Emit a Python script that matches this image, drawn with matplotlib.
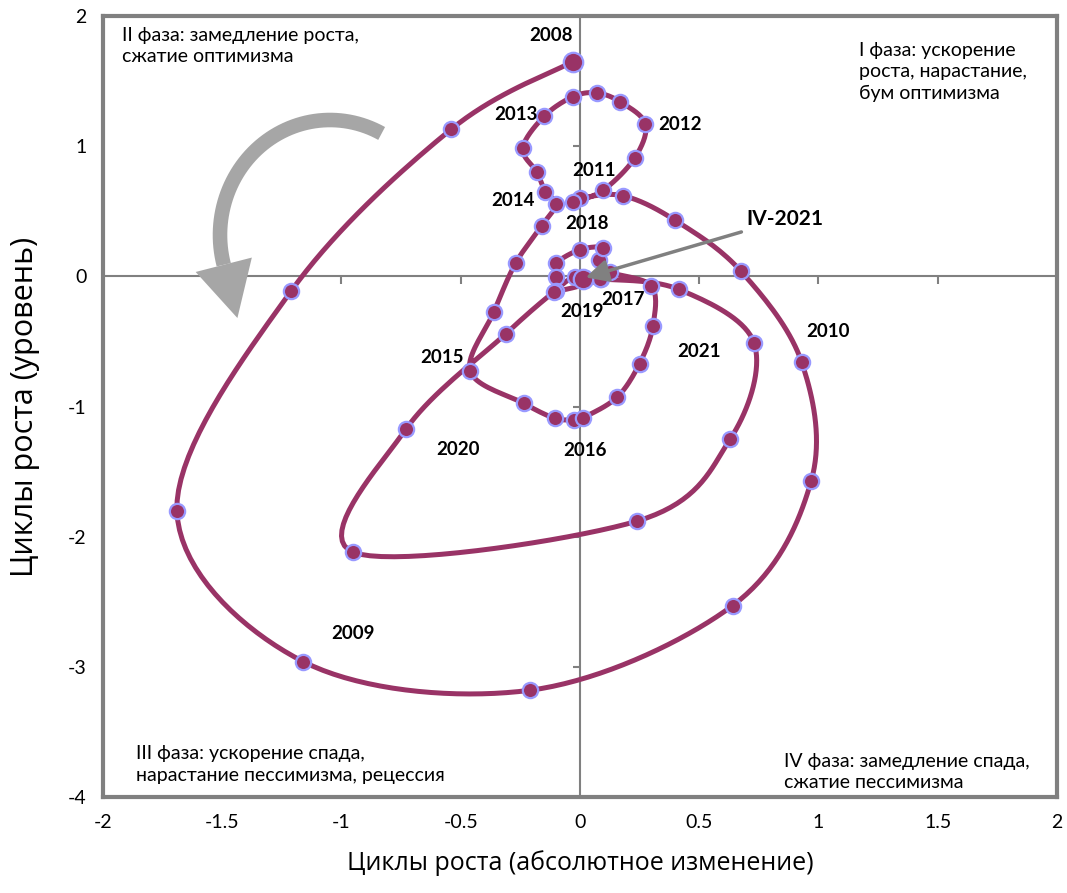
import numpy as np
import matplotlib
matplotlib.use('Agg')
import matplotlib.pyplot as plt
from matplotlib.patches import Polygon

# quarterly points 2008Q1 .. 2021Q4
dx = [-0.03, -0.54, -1.21, -1.69,
      -1.16, -0.21, 0.64, 0.97,
      0.93, 0.675, 0.40, 0.18,
      0.00, -0.03, 0.096, 0.23,
      0.275, 0.17, 0.07, -0.03,
      -0.15, -0.24, -0.18, -0.145,
      -0.10, -0.16, -0.27, -0.36,
      -0.46, -0.236, -0.105, -0.024,
      0.014, 0.155, 0.25, 0.306,
      0.30, 0.126, 0.08, 0.096,
      0.00, -0.10, -0.10, -0.10,
      0.09, -0.02, -0.11, -0.31,
      -0.73, -0.95, 0.24, 0.63,
      0.73, 0.415, 0.084, 0.014]
lvl = [1.65, 1.13, -0.11, -1.80,
       -2.96, -3.18, -2.53, -1.57,
       -0.66, 0.04, 0.43, 0.62,
       0.60, 0.57, 0.66, 0.91,
       1.17, 1.34, 1.41, 1.38,
       1.23, 0.985, 0.80, 0.65,
       0.555, 0.39, 0.10, -0.27,
       -0.73, -0.975, -1.09, -1.10,
       -1.085, -0.93, -0.67, -0.38,
       -0.075, 0.033, 0.125, 0.22,
       0.205, 0.10, -0.005, -0.11,
       -0.02, -0.005, -0.12, -0.44,
       -1.175, -2.12, -1.88, -1.25,
       -0.51, -0.10, -0.02, -0.018]

year_labels = ['2008', '2009', '2010', '2011', '2012', '2013', '2014',
               '2015', '2016', '2017', '2018', '2019', '2020', '2021']
year_pos = [(-0.12, 1.85), (-0.95, -2.74), (1.04, -0.42), (0.06, 0.81),
            (0.42, 1.17), (-0.27, 1.24), (-0.28, 0.58), (-0.58, -0.62),
            (0.02, -1.34), (0.18, -0.18), (0.03, 0.41), (0.01, -0.27),
            (-0.51, -1.33), (0.50, -0.58)]

xticks = [-2, -1.5, -1, -0.5, 0, 0.5, 1, 1.5, 2]
xtick_labels = ['-2', '-1.5', '-1', '-0.5', '0', '0.5', '1', '1.5', '2']
yticks = [-4, -3, -2, -1, 0, 1, 2]
ytick_labels = ['-4', '-3', '-2', '-1', '0', '1', '2']

LINE = '#993366'
EDGE = '#9999FF'
GRAY = '#808080'


def smooth(xs, ys, n=20):
    # excel-like smoothing: bezier with catmull-rom control points
    p = np.column_stack([xs, ys])
    p = np.vstack([p[0], p, p[-1]])
    out = []
    t = np.linspace(0, 1, n)[:, None]
    for i in range(1, len(p) - 2):
        p0, p1, p2, p3 = p[i - 1], p[i], p[i + 1], p[i + 2]
        b1 = p1 + (p2 - p0) / 6
        b2 = p2 - (p3 - p1) / 6
        seg = ((1 - t) ** 3) * p1 + 3 * ((1 - t) ** 2) * t * b1 + 3 * (1 - t) * t ** 2 * b2 + t ** 3 * p2
        out.append(seg)
    s = np.vstack(out)
    return s[:, 0], s[:, 1]


plt.rcParams['font.family'] = ['Lato', 'DejaVu Sans']
plt.rcParams['axes.unicode_minus'] = False

fig = plt.figure(figsize=(10.67, 8.93), dpi=100)
ax = fig.add_axes([0.0965, 0.1075, 0.894, 0.8745])
ax.set_xlim(-2, 2)
ax.set_ylim(-4, 2)

# zero axes with small ticks
ax.axhline(0, color=GRAY, lw=1.5, zorder=1)
ax.axvline(0, color=GRAY, lw=1.5, zorder=1)
ax.vlines(xticks, 0, -0.055, color=GRAY, lw=1.5, zorder=1)
ax.hlines(yticks, 0, -0.03, color=GRAY, lw=1.5, zorder=1)

sx, sy = smooth(dx, lvl)
ax.plot(sx, sy, color=LINE, lw=3.6, zorder=3, solid_capstyle='round')
ax.plot(dx, lvl, 'o', ms=11, mfc=LINE, mec=EDGE, mew=1.6, zorder=4)
ax.plot([dx[0], dx[-1]], [lvl[0], lvl[-1]], 'o', ms=14, mfc=LINE, mec=EDGE,
        mew=1.6, zorder=5)

for lab, (tx, ty) in zip(year_labels, year_pos):
    ax.text(tx, ty, lab, ha='center', va='center', fontsize=13.5,
            fontweight='bold', zorder=6)

# IV-2021 pointer
ax.annotate('IV-2021', xy=(dx[-1] + 0.01, lvl[-1] + 0.01), xytext=(0.70, 0.44),
            ha='left', va='center', fontsize=15, fontweight='bold', zorder=7,
            arrowprops=dict(arrowstyle='-|>,head_length=0.9,head_width=0.45',
                            color=GRAY, lw=2.5, shrinkA=2, shrinkB=0))

# big curved arrow (elliptic arc built in pixel space)
to_data = ax.transData.inverted()
H = 893
cx, cy, rx, ry = 330, 235, 110, 115
th = np.radians(np.linspace(62, 195, 60))
arc_px = np.column_stack([cx + rx * np.cos(th), H - (cy - ry * np.sin(th))])
arc = to_data.transform(arc_px)
ax.plot(arc[:, 0], arc[:, 1], color='#A6A6A6', lw=10.5, solid_capstyle='butt', zorder=2)
te = th[-1]
base = arc_px[-1]
tang = np.array([-rx * np.sin(te), ry * np.cos(te)])
tang = tang / np.hypot(*tang)
norm = np.array([-tang[1], tang[0]])
head_px = np.array([base + norm * 29, base + tang * 55, base - norm * 29])
ax.add_patch(Polygon(to_data.transform(head_px), closed=True, color='#A6A6A6',
                     lw=0, zorder=2))

# phase captions
ax.text(-1.92, 1.77, 'II фаза: замедление роста,\nсжатие оптимизма', ha='left',
        va='center', fontsize=14, linespacing=1.3)
ax.text(1.17, 1.57, 'I фаза: ускорение\nроста, нарастание,\nбум оптимизма', ha='left',
        va='center', fontsize=14, linespacing=1.3)
ax.text(-1.86, -3.75, 'III фаза: ускорение спада,\nнарастание пессимизма, рецессия',
        ha='left', va='center', fontsize=14, linespacing=1.3)
ax.text(0.855, -3.805, 'IV фаза: замедление спада,\nсжатие пессимизма', ha='left',
        va='center', fontsize=14, linespacing=1.3)

ax.set_xticks(xticks)
ax.set_xticklabels(xtick_labels)
ax.set_yticks(yticks)
ax.set_yticklabels(ytick_labels)
ax.tick_params(length=0, labelsize=14, pad=12)
for sp in ax.spines.values():
    sp.set_color(GRAY)
    sp.set_linewidth(3)

ax.set_xlabel('Циклы роста (абсолютное изменение)', fontsize=18, labelpad=14,
              family=['Open Sans', 'DejaVu Sans'])
ax.set_ylabel('Циклы роста (уровень)', fontsize=22, labelpad=20,
              family=['Open Sans', 'DejaVu Sans'])

fig.savefig('out.png', dpi=100)
